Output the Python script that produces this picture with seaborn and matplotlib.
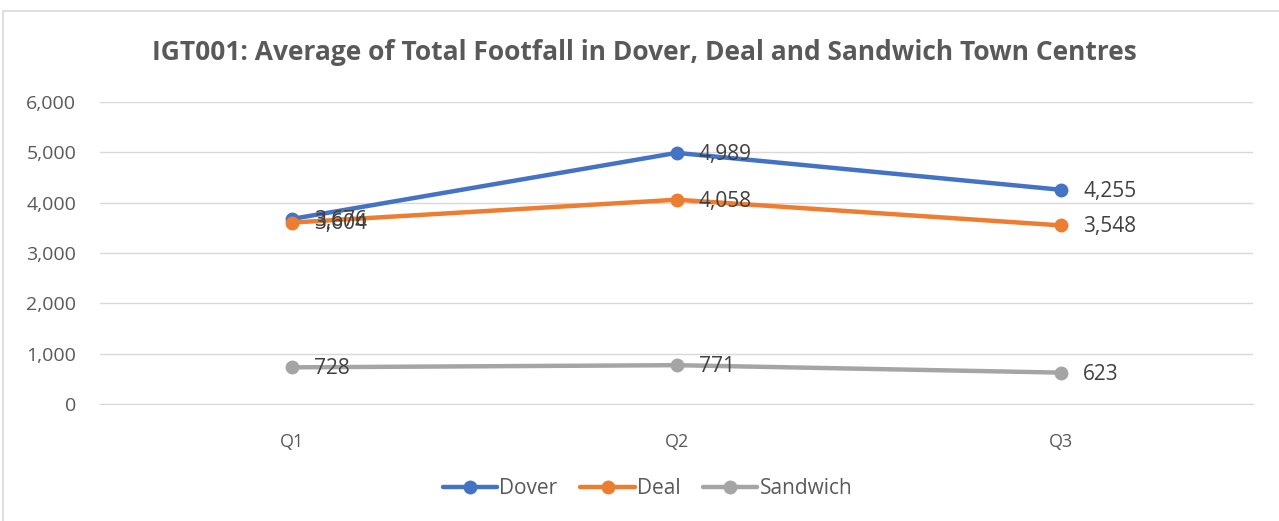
import pandas as pd
import matplotlib.pyplot as plt
import seaborn as sns
from matplotlib.patches import Rectangle

# Dados
trimestres = ["Q1", "Q2", "Q3"]
dover = [3676, 4989, 4255]
deal = [3604, 4058, 3548]
sandwich = [728, 771, 623]

series = {"Dover": dover, "Deal": deal, "Sandwich": sandwich}
cores = {"Dover": "#4472C4", "Deal": "#ED7D31", "Sandwich": "#A5A5A5"}

df = pd.DataFrame(
    [(nome, q, v) for nome, vals in series.items() for q, v in zip(trimestres, vals)],
    columns=["Town", "Quarter", "Footfall"],
)

sns.set_style("white")
plt.rcParams["font.family"] = ["Open Sans", "DejaVu Sans"]

fig = plt.figure(figsize=(12.79, 5.21), dpi=100)
ax = fig.add_axes([0.078, 0.2246, 0.902, 0.5797])

sns.lineplot(
    data=df, x="Quarter", y="Footfall", hue="Town", palette=cores,
    marker="o", markersize=10, linewidth=3.2, markeredgewidth=0,
    sort=False, ax=ax, legend=True,
)

# rótulos de dados
for nome, vals in series.items():
    for i, v in enumerate(vals):
        ax.annotate(f"{v:,}", (i, v), xytext=(16, -1), textcoords="offset points",
                    va="center", ha="left", fontsize=15, color="#404040")

ax.set_xlim(-0.5, 2.5)
ax.set_ylim(0, 6000)
ax.set_yticks(range(0, 6001, 1000))
ax.set_yticklabels([f"{t:,}" for t in range(0, 6001, 1000)])
ax.yaxis.grid(True, color="#D9D9D9", linewidth=1)
ax.set_axisbelow(True)
for s in ["top", "right", "left"]:
    ax.spines[s].set_visible(False)
ax.spines["bottom"].set_color("#D9D9D9")
ax.tick_params(axis="both", length=0, labelcolor="#595959")
ax.tick_params(axis="y", labelsize=14, pad=17)
ax.tick_params(axis="x", labelsize=13, pad=21)
ax.set_xlabel("")
ax.set_ylabel("")

leg = ax.legend(loc="center", bbox_to_anchor=(0.475, -0.28), ncol=3, frameon=False,
                fontsize=15, handlelength=2.6, handletextpad=0.1, columnspacing=1.1)
for t in leg.get_texts():
    t.set_color("#595959")

fig.text(0.504, 0.9, "IGT001: Average of Total Footfall in Dover, Deal and Sandwich Town Centres",
         ha="center", va="center", fontsize=19, fontweight="bold", color="#595959")

fig.patches.append(Rectangle((0.0025, -0.01), 1.0, 0.989, transform=fig.transFigure,
                             fill=False, edgecolor="#D9D9D9", linewidth=1.2))

fig.savefig("out.png", dpi=100)
